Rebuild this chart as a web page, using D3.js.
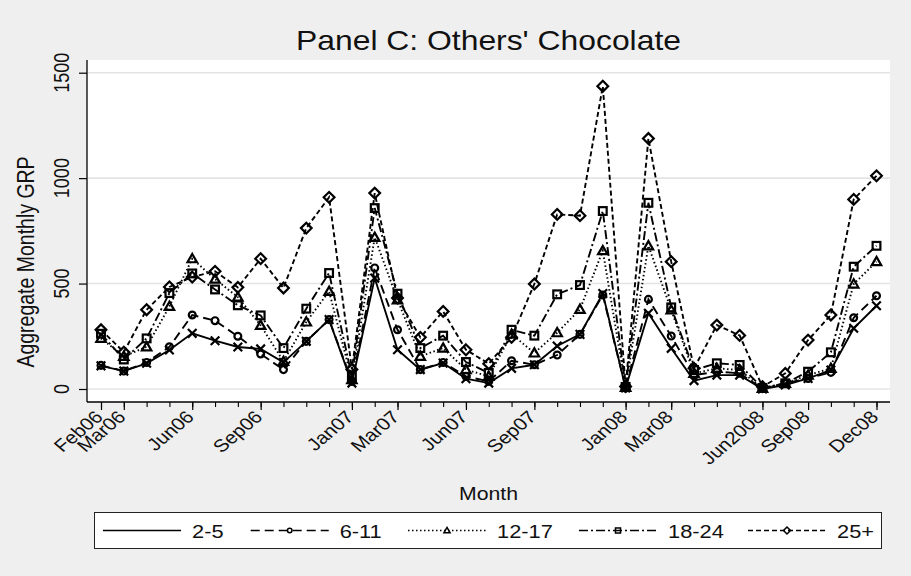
<!DOCTYPE html>
<html>
<head>
<meta charset="utf-8">
<script src="https://cdn.jsdelivr.net/npm/d3@7"></script>
<style>
  html, body { margin: 0; padding: 0; background: #efefef; }
  svg { display: block; font-family: "Liberation Sans", Arial, sans-serif; }
</style>
</head>
<body>
<svg id="chart" width="911" height="576"></svg>
<script>
// Monthly observations, Feb 2006 – Dec 2008
const months = ["Feb06","Mar06","Apr06","May06","Jun06","Jul06","Aug06","Sep06","Oct06","Nov06","Dec06",
  "Jan07","Feb07","Mar07","Apr07","May07","Jun07","Jul07","Aug07","Sep07","Oct07","Nov07","Dec07",
  "Jan08","Feb08","Mar08","Apr08","May08","Jun08","Jul08","Aug08","Sep08","Oct08","Nov08","Dec08"];

// Labelled x ticks (month where the tick sits, and the text printed there)
const tickMonths = ["Feb06","Mar06","Jun06","Sep06","Jan07","Mar07","Jun07","Sep07","Jan08","Mar08","Jul08","Sep08","Dec08"];
const tickLabels = ["Feb06","Mar06","Jun06","Sep06","Jan07","Mar07","Jun07","Sep07","Jan08","Mar08","Jun2008","Sep08","Dec08"];

const yTicks = [0, 500, 1000, 1500];

// Aggregate monthly GRP by age group
const grp2_5   = [110,85,122,185,264,229,199,190,126,226,329,28,526,186,92,123,49,28,98,115,204,259,453,5,359,193,40,66,66,0,19,50,90,288,395];
const grp6_11  = [112,85,126,200,351,324,250,166,92,226,329,36,574,281,92,126,60,36,134,115,161,259,446,5,425,251,66,82,75,2,27,50,79,338,442];
const grp12_17 = [240,155,200,392,618,521,436,302,131,318,463,44,719,423,155,194,92,60,260,171,267,378,656,8,679,375,74,98,90,3,27,66,98,498,604];
const grp18_24 = [262,140,240,455,548,472,397,349,194,381,550,60,858,452,194,253,128,76,281,253,449,493,844,10,883,387,90,122,114,5,27,82,174,580,679];
const grp25    = [281,175,376,484,531,558,482,618,479,763,909,93,929,431,245,368,186,120,245,498,828,822,1436,12,1188,604,98,303,254,11,74,232,351,899,1011];

const seriesNames = ["2-5", "6-11", "12-17", "18-24", "25+"];

const series = [
  { name: seriesNames[0], values: grp2_5,   dash: null,          marker: "x" },
  { name: seriesNames[1], values: grp6_11,  dash: "9,5",         marker: "circle" },
  { name: seriesNames[2], values: grp12_17, dash: "1.5,2.5",     marker: "triangle" },
  { name: seriesNames[3], values: grp18_24, dash: "9,3,2,3",     marker: "square" },
  { name: seriesNames[4], values: grp25,    dash: "5,3",         marker: "diamond" }
];

// Text is drawn slightly widened horizontally
const SX = 1.18;

const svg = d3.select("#chart");
const W = 911, H = 576;
const plot = { left: 87, right: 890, top: 60, bottom: 402 };

svg.append("rect").attr("width", W).attr("height", H).attr("fill", "#efefef");
svg.append("rect")
  .attr("x", plot.left).attr("y", plot.top)
  .attr("width", plot.right - plot.left).attr("height", plot.bottom - plot.top)
  .attr("fill", "#ffffff");

const x = d3.scaleLinear().domain([0, months.length - 1]).range([101, 876.5]);
const y = d3.scaleLinear().domain([0, 1500]).range([389, 72.7]);

function txt(g, str, tx, ty, rot, size, anchor) {
  return g.append("text")
    .attr("transform", `translate(${tx},${ty}) scale(${SX},1) rotate(${rot})`)
    .attr("text-anchor", anchor || "middle")
    .attr("font-size", size)
    .attr("fill", "#111")
    .text(str);
}

// Horizontal grid lines
svg.append("g").selectAll("line").data(yTicks).join("line")
  .attr("x1", plot.left + 1).attr("x2", plot.right)
  .attr("y1", d => y(d)).attr("y2", d => y(d))
  .attr("stroke", "#e4e4e4").attr("stroke-width", 1.6);

// Y axis
const yAxis = d3.axisLeft(y).tickValues(yTicks).tickSize(8).tickSizeOuter(0).tickFormat("");
const gy = svg.append("g").attr("transform", `translate(${plot.left},0)`).call(yAxis);
gy.select(".domain").remove();
gy.selectAll(".tick line").attr("stroke", "#000").attr("stroke-width", 1.2);
yTicks.forEach(v => txt(svg, String(v), 69, y(v), -90, 18, "middle"));
svg.append("line").attr("x1", plot.left).attr("x2", plot.left)
  .attr("y1", plot.top).attr("y2", plot.bottom).attr("stroke", "#000").attr("stroke-width", 1.3);

// X axis: a tick for every month, longer ticks where labelled
const xIndex = months.map((m, i) => i);
const xMinor = d3.axisBottom(x).tickValues(xIndex).tickSize(5).tickSizeOuter(0).tickFormat("");
const gxm = svg.append("g").attr("transform", `translate(0,${plot.bottom})`).call(xMinor);
gxm.select(".domain").remove();
gxm.selectAll(".tick line").attr("stroke", "#000").attr("stroke-width", 1.1);

const majorIdx = tickMonths.map(m => months.indexOf(m));
const xMajor = d3.axisBottom(x).tickValues(majorIdx).tickSize(8).tickSizeOuter(0).tickFormat("");
const gxM = svg.append("g").attr("transform", `translate(0,${plot.bottom})`).call(xMajor);
gxM.select(".domain").remove();
gxM.selectAll(".tick line").attr("stroke", "#000").attr("stroke-width", 1.2);
majorIdx.forEach((idx, k) => {
  txt(svg, tickLabels[k], x(idx) + 3, plot.bottom + 16, -45, 17.5, "end");
});
svg.append("line").attr("x1", plot.left).attr("x2", plot.right)
  .attr("y1", plot.bottom).attr("y2", plot.bottom).attr("stroke", "#000").attr("stroke-width", 1.3);

// Titles
txt(svg, "Panel C: Others' Chocolate", 488.5, 50, 0, 27, "middle");
txt(svg, "Aggregate Monthly GRP", 34, 262, -90, 19.5, "middle");
txt(svg, "Month", 488.5, 500, 0, 18, "middle");

// Marker shapes
function drawMarker(g, type, cx, cy, s, sw) {
  const common = el => el.attr("fill", "none").attr("stroke", "#000").attr("stroke-width", sw);
  if (type === "x") {
    common(g.append("path").attr("d",
      `M${cx - s},${cy - s}L${cx + s},${cy + s}M${cx - s},${cy + s}L${cx + s},${cy - s}`));
  } else if (type === "circle") {
    common(g.append("circle").attr("cx", cx).attr("cy", cy).attr("r", s * 0.8));
  } else if (type === "triangle") {
    const h = s * 1.1;
    common(g.append("path").attr("d",
      `M${cx},${cy - h}L${cx + h},${cy + h * 0.75}L${cx - h},${cy + h * 0.75}Z`));
  } else if (type === "square") {
    common(g.append("rect").attr("x", cx - s * 0.9).attr("y", cy - s * 0.9)
      .attr("width", s * 1.8).attr("height", s * 1.8));
  } else if (type === "diamond") {
    const r = s * 1.25;
    common(g.append("path").attr("d",
      `M${cx},${cy - r}L${cx + r},${cy}L${cx},${cy + r}L${cx - r},${cy}Z`));
  }
}

// Series lines and markers
const line = d3.line().x((d, i) => x(i)).y(d => y(d));
series.forEach(s => {
  const g = svg.append("g");
  g.append("path").datum(s.values)
    .attr("d", line)
    .attr("fill", "none")
    .attr("stroke", "#000")
    .attr("stroke-width", 1.9)
    .attr("stroke-dasharray", s.dash);
  s.values.forEach((v, i) => drawMarker(g, s.marker, x(i), y(v), 4.3, 2.2));
});

// Legend
const lg = svg.append("g");
lg.append("rect").attr("x", 94.5).attr("y", 512.5).attr("width", 787).attr("height", 36)
  .attr("fill", "#fff").attr("stroke", "#222").attr("stroke-width", 1);
const legendX = [103, 250.7, 408, 579, 748];
series.forEach((s, k) => {
  const x0 = legendX[k], ly = 530.5;
  lg.append("line").attr("x1", x0).attr("x2", x0 + 78).attr("y1", ly).attr("y2", ly)
    .attr("stroke", "#000").attr("stroke-width", 1.3)
    .attr("stroke-dasharray", s.dash);
  if (s.marker !== "x") drawMarker(lg, s.marker, x0 + 39, ly, 2.8, 1.5);
  txt(lg, s.name, x0 + 89, 537.5, 0, 18.5, "start");
});
</script>
</body>
</html>
